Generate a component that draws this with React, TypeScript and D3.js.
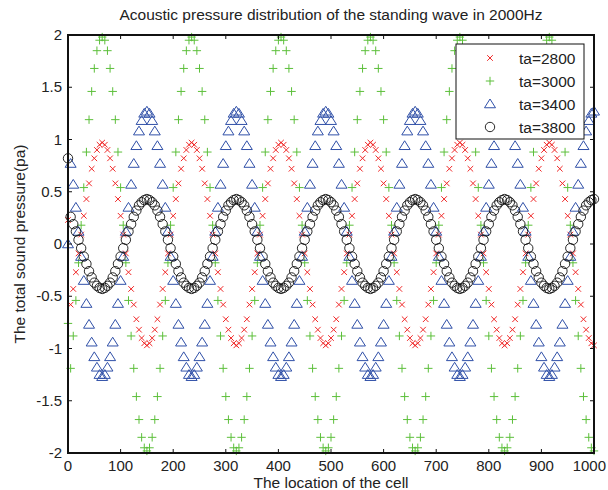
import React from "react";
import * as d3 from "d3";

const title = "Acoustic pressure distribution of the standing wave in 2000Hz";
const xLabel = "The location of the cell";
const yLabel = "The total sound pressure(pa)";

const xTicks = [0, 100, 200, 300, 400, 500, 600, 700, 800, 900, 1000];
const yTicks = [-2, -1.5, -1, -0.5, 0, 0.5, 1, 1.5, 2];

// cell locations, sampled every 5 cells
const cellLocations = d3.range(0, 1001, 5);

const ta2800 = [
  0.23, -0.58, -0.43, -0.27, -0.09, 0.09, 0.27, 0.43, 0.58, 0.72, 0.82, 0.9, 0.95, 0.97, 0.95, 0.9, 0.82, 0.72, 0.58, 0.43, 0.27, 0.09, -0.09, -0.27, -0.43, -0.58, -0.72, -0.82, -0.9, -0.95,
  -0.97, -0.95, -0.9, -0.82, -0.72, -0.58, -0.43, -0.27, -0.09, 0.09, 0.27, 0.43, 0.58, 0.72, 0.82, 0.9, 0.95, 0.97, 0.95, 0.9, 0.82, 0.72, 0.58, 0.43, 0.27, 0.09, -0.09, -0.27, -0.43, -0.58, -0.72, -0.82, -0.9, -0.95,
  -0.97, -0.95, -0.9, -0.82, -0.72, -0.58, -0.43, -0.27, -0.09, 0.09, 0.27, 0.43, 0.58, 0.72, 0.82, 0.9, 0.95, 0.97, 0.95, 0.9, 0.82, 0.72, 0.58, 0.43, 0.27, 0.09, -0.09, -0.27, -0.43, -0.58, -0.72, -0.82, -0.9, -0.95,
  -0.97, -0.95, -0.9, -0.82, -0.72, -0.58, -0.43, -0.27, -0.09, 0.09, 0.27, 0.43, 0.58, 0.72, 0.82, 0.9, 0.95, 0.97, 0.95, 0.9, 0.82, 0.72, 0.58, 0.43, 0.27, 0.09, -0.09, -0.27, -0.43, -0.58, -0.72, -0.82, -0.9, -0.95,
  -0.97, -0.95, -0.9, -0.82, -0.72, -0.58, -0.43, -0.27, -0.09, 0.09, 0.27, 0.43, 0.58, 0.72, 0.82, 0.9, 0.95, 0.97, 0.95, 0.9, 0.82, 0.72, 0.58, 0.43, 0.27, 0.09, -0.09, -0.27, -0.43, -0.58, -0.72, -0.82, -0.9, -0.95,
  -0.97, -0.95, -0.9, -0.82, -0.72, -0.58, -0.43, -0.27, -0.09, 0.09, 0.27, 0.43, 0.58, 0.72, 0.82, 0.9, 0.95, 0.97, 0.95, 0.9, 0.82, 0.72, 0.58, 0.43, 0.27, 0.09, -0.09, -0.27, -0.43, -0.58, -0.72, -0.82, -0.9, -0.95,
  -0.97,
];

const ta3000 = [
  -0.76, -1.19, -0.88, -0.54, -0.18, 0.18, 0.54, 0.88, 1.19, 1.46, 1.68, 1.85, 1.95, 1.98, 1.95, 1.85, 1.68, 1.46, 1.19, 0.88, 0.54, 0.18, -0.18, -0.54, -0.88, -1.19, -1.46, -1.68, -1.85, -1.95,
  -1.98, -1.95, -1.85, -1.68, -1.46, -1.19, -0.88, -0.54, -0.18, 0.18, 0.54, 0.88, 1.19, 1.46, 1.68, 1.85, 1.95, 1.98, 1.95, 1.85, 1.68, 1.46, 1.19, 0.88, 0.54, 0.18, -0.18, -0.54, -0.88, -1.19, -1.46, -1.68, -1.85, -1.95,
  -1.98, -1.95, -1.85, -1.68, -1.46, -1.19, -0.88, -0.54, -0.18, 0.18, 0.54, 0.88, 1.19, 1.46, 1.68, 1.85, 1.95, 1.98, 1.95, 1.85, 1.68, 1.46, 1.19, 0.88, 0.54, 0.18, -0.18, -0.54, -0.88, -1.19, -1.46, -1.68, -1.85, -1.95,
  -1.98, -1.95, -1.85, -1.68, -1.46, -1.19, -0.88, -0.54, -0.18, 0.18, 0.54, 0.88, 1.19, 1.46, 1.68, 1.85, 1.95, 1.98, 1.95, 1.85, 1.68, 1.46, 1.19, 0.88, 0.54, 0.18, -0.18, -0.54, -0.88, -1.19, -1.46, -1.68, -1.85, -1.95,
  -1.98, -1.95, -1.85, -1.68, -1.46, -1.19, -0.88, -0.54, -0.18, 0.18, 0.54, 0.88, 1.19, 1.46, 1.68, 1.85, 1.95, 1.98, 1.95, 1.85, 1.68, 1.46, 1.19, 0.88, 0.54, 0.18, -0.18, -0.54, -0.88, -1.19, -1.46, -1.68, -1.85, -1.95,
  -1.98, -1.95, -1.85, -1.68, -1.46, -1.19, -0.88, -0.54, -0.18, 0.18, 0.54, 0.88, 1.19, 1.46, 1.68, 1.85, 1.95, 1.98, 1.95, 1.85, 1.68, 1.46, 1.19, 0.88, 0.54, 0.18, -0.18, -0.54, -0.88, -1.19, -1.46, -1.68, -1.85, -1.95,
  -1.98,
];

const ta3400 = [
  0.0, 0.77, 0.57, 0.35, 0.12, -0.12, -0.35, -0.57, -0.77, -0.94, -1.08, -1.18, -1.25, -1.27, -1.25, -1.18, -1.08, -0.94, -0.77, -0.57, -0.35, -0.12, 0.12, 0.35, 0.57, 0.77, 0.94, 1.08, 1.18, 1.25,
  1.27, 1.25, 1.18, 1.08, 0.94, 0.77, 0.57, 0.35, 0.12, -0.12, -0.35, -0.57, -0.77, -0.94, -1.08, -1.18, -1.25, -1.27, -1.25, -1.18, -1.08, -0.94, -0.77, -0.57, -0.35, -0.12, 0.12, 0.35, 0.57, 0.77, 0.94, 1.08, 1.18, 1.25,
  1.27, 1.25, 1.18, 1.08, 0.94, 0.77, 0.57, 0.35, 0.12, -0.12, -0.35, -0.57, -0.77, -0.94, -1.08, -1.18, -1.25, -1.27, -1.25, -1.18, -1.08, -0.94, -0.77, -0.57, -0.35, -0.12, 0.12, 0.35, 0.57, 0.77, 0.94, 1.08, 1.18, 1.25,
  1.27, 1.25, 1.18, 1.08, 0.94, 0.77, 0.57, 0.35, 0.12, -0.12, -0.35, -0.57, -0.77, -0.94, -1.08, -1.18, -1.25, -1.27, -1.25, -1.18, -1.08, -0.94, -0.77, -0.57, -0.35, -0.12, 0.12, 0.35, 0.57, 0.77, 0.94, 1.08, 1.18, 1.25,
  1.27, 1.25, 1.18, 1.08, 0.94, 0.77, 0.57, 0.35, 0.12, -0.12, -0.35, -0.57, -0.77, -0.94, -1.08, -1.18, -1.25, -1.27, -1.25, -1.18, -1.08, -0.94, -0.77, -0.57, -0.35, -0.12, 0.12, 0.35, 0.57, 0.77, 0.94, 1.08, 1.18, 1.25,
  1.27, 1.25, 1.18, 1.08, 0.94, 0.77, 0.57, 0.35, 0.12, -0.12, -0.35, -0.57, -0.77, -0.94, -1.08, -1.18, -1.25, -1.27, -1.25, -1.18, -1.08, -0.94, -0.77, -0.57, -0.35, -0.12, 0.12, 0.35, 0.57, 0.77, 0.94, 1.08, 1.18, 1.25,
  1.27,
];

const ta3800 = [
  0.82, 0.26, 0.19, 0.12, 0.04, -0.04, -0.12, -0.19, -0.26, -0.32, -0.37, -0.4, -0.42, -0.43, -0.42, -0.4, -0.37, -0.32, -0.26, -0.19, -0.12, -0.04, 0.04, 0.12, 0.19, 0.26, 0.32, 0.37, 0.4, 0.42,
  0.43, 0.42, 0.4, 0.37, 0.32, 0.26, 0.19, 0.12, 0.04, -0.04, -0.12, -0.19, -0.26, -0.32, -0.37, -0.4, -0.42, -0.43, -0.42, -0.4, -0.37, -0.32, -0.26, -0.19, -0.12, -0.04, 0.04, 0.12, 0.19, 0.26, 0.32, 0.37, 0.4, 0.42,
  0.43, 0.42, 0.4, 0.37, 0.32, 0.26, 0.19, 0.12, 0.04, -0.04, -0.12, -0.19, -0.26, -0.32, -0.37, -0.4, -0.42, -0.43, -0.42, -0.4, -0.37, -0.32, -0.26, -0.19, -0.12, -0.04, 0.04, 0.12, 0.19, 0.26, 0.32, 0.37, 0.4, 0.42,
  0.43, 0.42, 0.4, 0.37, 0.32, 0.26, 0.19, 0.12, 0.04, -0.04, -0.12, -0.19, -0.26, -0.32, -0.37, -0.4, -0.42, -0.43, -0.42, -0.4, -0.37, -0.32, -0.26, -0.19, -0.12, -0.04, 0.04, 0.12, 0.19, 0.26, 0.32, 0.37, 0.4, 0.42,
  0.43, 0.42, 0.4, 0.37, 0.32, 0.26, 0.19, 0.12, 0.04, -0.04, -0.12, -0.19, -0.26, -0.32, -0.37, -0.4, -0.42, -0.43, -0.42, -0.4, -0.37, -0.32, -0.26, -0.19, -0.12, -0.04, 0.04, 0.12, 0.19, 0.26, 0.32, 0.37, 0.4, 0.42,
  0.43, 0.42, 0.4, 0.37, 0.32, 0.26, 0.19, 0.12, 0.04, -0.04, -0.12, -0.19, -0.26, -0.32, -0.37, -0.4, -0.42, -0.43, -0.42, -0.4, -0.37, -0.32, -0.26, -0.19, -0.12, -0.04, 0.04, 0.12, 0.19, 0.26, 0.32, 0.37, 0.4, 0.42,
  0.43,
];

const seriesNames = ["ta=2800", "ta=3000", "ta=3400", "ta=3800"];
const seriesValues = [ta2800, ta3000, ta3400, ta3800];
const seriesColors = ["#f02828", "#5cbf3a", "#3050a8", "#111111"];
const seriesSymbols = ["x", "plus", "triangle", "circle"];

const FONT = "'Liberation Sans', Arial, sans-serif";
const W = 608;
const H = 490;
const margin = { left: 68, right: 12, top: 35, bottom: 37 };

const Marker = ({ kind, x, y, color }: { kind: string; x: number; y: number; color: string }) => {
  if (kind === "x") {
    const s = 2.8;
    return (
      <path
        d={`M${x - s},${y - s}L${x + s},${y + s}M${x - s},${y + s}L${x + s},${y - s}`}
        stroke={color}
        strokeWidth={1}
        fill="none"
      />
    );
  }
  if (kind === "plus") {
    const s = 4.2;
    return (
      <path
        d={`M${x - s},${y}L${x + s},${y}M${x},${y - s}L${x},${y + s}`}
        stroke={color}
        strokeWidth={1}
        fill="none"
      />
    );
  }
  if (kind === "triangle") {
    const s = 5;
    return (
      <path
        d={`M${x},${y - s}L${x + s * 1.1},${y + s * 0.75}L${x - s * 1.1},${y + s * 0.75}Z`}
        stroke={color}
        strokeWidth={1}
        fill="none"
      />
    );
  }
  return <circle cx={x} cy={y} r={4.7} stroke={color} strokeWidth={0.9} fill="none" />;
};

export default function App() {
  const x = d3.scaleLinear().domain([0, 1000]).range([margin.left, W - margin.right - 2]);
  const y = d3.scaleLinear().domain([-2, 2]).range([H - margin.bottom, margin.top]);
  const [x0, x1] = x.range();
  const [yb, yt] = y.range();
  const tickLen = 4;

  return (
    <svg
      width={W}
      height={H}
      style={{ position: "absolute", left: 0, top: 0, background: "#fff" }}
      fontFamily={FONT}
    >
      <rect x={0} y={0} width={W} height={H} fill="#fff" />
      <text x={(x0 + x1) / 2} y={20} textAnchor="middle" fontSize={15.5} fill="#222">
        {title}
      </text>

      {/* data */}
      {seriesValues.map((vals, si) => (
        <g key={si}>
          {vals.map((v, i) => (
            <Marker
              key={i}
              kind={seriesSymbols[si]}
              x={x(cellLocations[i])}
              y={y(v)}
              color={seriesColors[si]}
            />
          ))}
        </g>
      ))}

      {/* axes box + ticks */}
      <g stroke="#111" strokeWidth={1}>
        {xTicks.map((t) => (
          <g key={t}>
            <line x1={x(t)} x2={x(t)} y1={yb} y2={yb - tickLen} />
            <line x1={x(t)} x2={x(t)} y1={yt} y2={yt + tickLen} />
          </g>
        ))}
        {yTicks.map((t) => (
          <g key={t}>
            <line x1={x0} x2={x0 + tickLen} y1={y(t)} y2={y(t)} />
            <line x1={x1} x2={x1 - tickLen} y1={y(t)} y2={y(t)} />
          </g>
        ))}
      </g>
      <rect x={x0} y={yt} width={x1 - x0} height={yb - yt} fill="none" stroke="#111" strokeWidth={2} />

      {xTicks.map((t, i) => {
        // the last label would run past the window edge, so keep it inside
        const last = i === xTicks.length - 1;
        return (
          <text
            key={t}
            x={last ? W - 2 : x(t)}
            y={yb + 18}
            textAnchor={last ? "end" : "middle"}
            fontSize={15}
            fill="#222"
          >
            {t}
          </text>
        );
      })}
      {yTicks.map((t) => (
        <text key={t} x={x0 - 6} y={y(t) + 5} textAnchor="end" fontSize={15} fill="#222">
          {t}
        </text>
      ))}

      <text x={(x0 + x1) / 2} y={488} textAnchor="middle" fontSize={15.5} fill="#222">
        {xLabel}
      </text>
      <text
        transform={`translate(25,${(yt + yb) / 2}) rotate(-90)`}
        textAnchor="middle"
        fontSize={15.5}
        fill="#222"
      >
        {yLabel}
      </text>

      {/* legend */}
      <g>
        <rect x={456} y={44} width={128} height={95} fill="#fff" stroke="#111" strokeWidth={1} />
        {seriesNames.map((name, i) => {
          const cy = 58 + i * 23;
          return (
            <g key={name}>
              <Marker kind={seriesSymbols[i]} x={490} y={cy} color={seriesColors[i]} />
              <text x={519} y={cy + 5.5} fontSize={15.5} fill="#222">
                {name}
              </text>
            </g>
          );
        })}
      </g>
    </svg>
  );
}
